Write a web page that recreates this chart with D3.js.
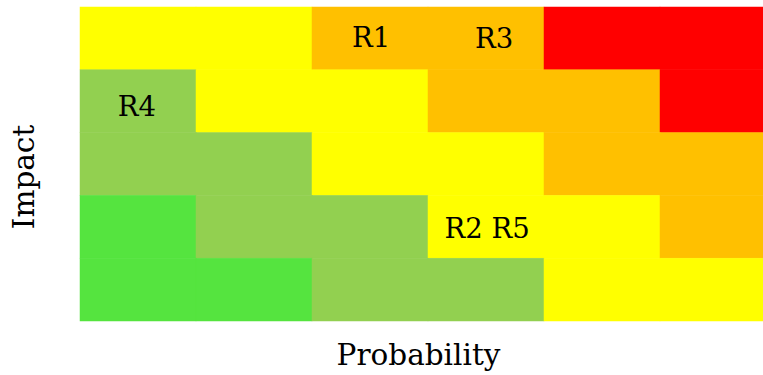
<!DOCTYPE html>
<html><head><meta charset="utf-8">
<script src="https://cdn.jsdelivr.net/npm/d3@7"></script>
<style>body{margin:0;background:#fff}svg{display:block}text{font-family:"DejaVu Serif",serif;fill:#000}</style>
</head><body>
<script>
const probabilityLevels = [1, 2, 3, 4, 5, 6];
const impactLevels = [1, 2, 3, 4, 5];
// rating per cell: rows listed top (impact 5) to bottom (impact 1)
const ratingRows = [
  ["medium", "medium", "high", "high", "extreme", "extreme"],
  ["low", "medium", "medium", "high", "high", "extreme"],
  ["low", "low", "medium", "medium", "high", "high"],
  ["minimal", "low", "low", "medium", "medium", "high"],
  ["minimal", "minimal", "low", "low", "medium", "medium"]
];
const ratingNames = ["minimal", "low", "medium", "high", "extreme"];
const ratingColors = ["#55E43F", "#92D050", "#FFFF00", "#FFC000", "#FF0000"];
const riskLabels = ["R1", "R3", "R4", "R2 R5"];
const riskProbability = [2.51, 3.57, 0.49, 3.51];
const riskImpact = [4.52, 4.5, 3.42, 1.48];

const W = 763, H = 375;
const m = {left: 80, top: 7, right: -13, bottom: 54};
const svg = d3.select("body").append("svg").attr("width", W).attr("height", H);
const x = d3.scaleLinear().domain([0, probabilityLevels.length]).range([m.left, W - m.right]);
const y = d3.scaleLinear().domain([0, impactLevels.length]).range([H - m.bottom, m.top]);
const color = d3.scaleOrdinal().domain(ratingNames).range(ratingColors);

const cells = [];
ratingRows.forEach((row, r) => row.forEach((v, c) => {
  cells.push({c, imp: impactLevels.length - 1 - r, v});
}));
svg.append("g").selectAll("rect").data(cells).join("rect")
  .attr("x", d => x(d.c)).attr("y", d => y(d.imp + 1))
  .attr("width", d => x(d.c + 1) - x(d.c)).attr("height", d => y(d.imp) - y(d.imp + 1))
  .attr("fill", d => color(d.v)).attr("stroke", d => color(d.v)).attr("stroke-width", 0.5);

svg.append("g").selectAll("text").data(riskLabels).join("text")
  .attr("x", (d, i) => x(riskProbability[i])).attr("y", (d, i) => y(riskImpact[i]))
  .attr("text-anchor", "middle").attr("dominant-baseline", "central")
  .attr("font-size", 27.5).text(d => d);

svg.append("text").attr("x", 418.5).attr("y", 365).attr("text-anchor", "middle")
  .attr("font-size", 29.5).text("Probability");
svg.append("text").attr("transform", "translate(34,177) rotate(-90)").attr("text-anchor", "middle")
  .attr("font-size", 29.5).text("Impact");
</script>
</body></html>
